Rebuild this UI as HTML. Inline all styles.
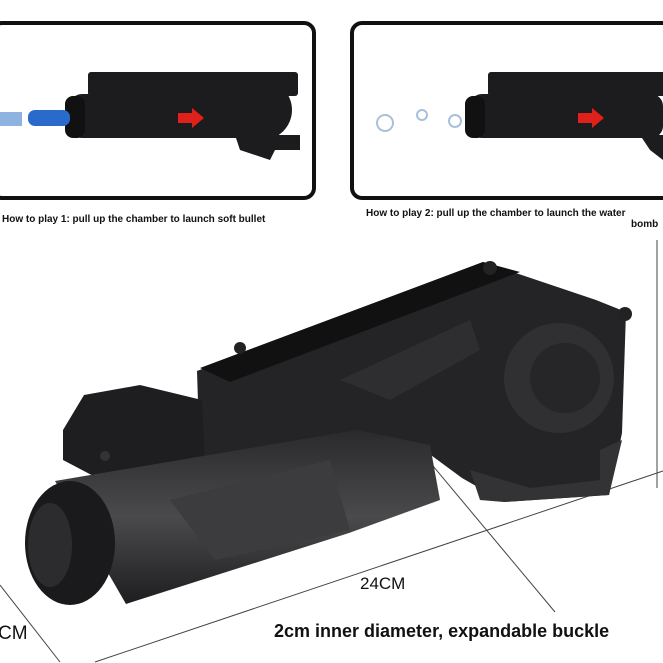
<!DOCTYPE html>
<html><head><style>
body{margin:0;width:663px;height:663px;overflow:hidden;background:#fff;font-family:"Liberation Sans",sans-serif;position:relative}
.box{position:absolute;border:4px solid #111;border-radius:12px;background:#fff}
.t{position:absolute;font-weight:bold;color:#111;white-space:nowrap}
</style></head><body>
<div class="box" style="left:-10px;top:21px;width:318px;height:171px"></div>
<div class="box" style="left:350px;top:21px;width:330px;height:171px"></div>
<svg width="663" height="663" style="position:absolute;left:0;top:0">
<defs>
<linearGradient id="bg" x1="0" y1="0" x2="0" y2="1"><stop offset="0" stop-color="#2a2a2c"/><stop offset="0.5" stop-color="#4a4a4d"/><stop offset="1" stop-color="#1e1e20"/></linearGradient>
</defs>
<!-- small gun 1 -->
<g fill="#1c1c1e">
<rect x="88" y="72" width="210" height="24" rx="3"/>
<rect x="70" y="94" width="185" height="44" rx="12"/>
<circle cx="262" cy="110" r="30"/>
<path d="M235 135 L300 135 L300 150 L275 150 L270 160 L240 150Z"/>
<rect x="65" y="96" width="20" height="42" rx="8" fill="#111"/>
</g>
<rect x="28" y="110" width="42" height="16" rx="7" fill="#2a6acb"/>
<rect x="0" y="112" width="22" height="14" fill="#8eb3e0"/>
<path d="M178 113 h14 v-5 l12 10 -12 10 v-5 h-14z" fill="#e0201a"/>
<!-- small gun 2 -->
<g fill="#1c1c1e">
<rect x="488" y="72" width="180" height="24" rx="3"/>
<rect x="470" y="94" width="193" height="44" rx="12"/>
<path d="M640 135 L663 135 L663 160 L650 150Z"/>
<rect x="465" y="96" width="20" height="42" rx="8" fill="#111"/>
</g>
<path d="M578 113 h14 v-5 l12 10 -12 10 v-5 h-14z" fill="#e0201a"/>
<circle cx="385" cy="123" r="8" fill="none" stroke="#a8c0d8" stroke-width="2"/>
<circle cx="422" cy="115" r="5" fill="none" stroke="#a8c0d8" stroke-width="2"/>
<circle cx="455" cy="121" r="6" fill="none" stroke="#a8c0d8" stroke-width="2"/>
<!-- dimension lines -->
<line x1="95" y1="662" x2="663" y2="471" stroke="#444" stroke-width="1"/>
<line x1="357" y1="375" x2="555" y2="612" stroke="#444" stroke-width="1"/>
<line x1="0" y1="585" x2="60" y2="662" stroke="#444" stroke-width="1"/>
<line x1="657" y1="240" x2="657" y2="488" stroke="#444" stroke-width="1"/>
<!-- main gun -->
<g>
<path d="M197 371 L483 262 L596 300 L626 312 L622 433 L609 495 L504 502 L462 478 L420 447 L300 470 L200 464Z" fill="#242426"/>
<path d="M470 470 L480 500 L504 502 L609 495 L622 440 L600 450 L600 480 L530 488 Z" fill="#333336"/>
<path d="M84 395 L140 385 L202 400 L205 464 L120 490 L63 460 L63 430Z" fill="#1e1e20"/>
<path d="M55 481 L357 430 L430 445 L440 500 L349 533 L126 604Z" fill="url(#bg)"/>
<path d="M170 500 L330 460 L350 530 L215 560Z" fill="#3c3c3f"/>
<ellipse cx="70" cy="543" rx="45" ry="62" fill="#1a1a1c"/>
<ellipse cx="50" cy="545" rx="22" ry="42" fill="#2c2c2e"/>
</g>
<path d="M200 368 L483 262 L520 272 L230 382Z" fill="#111"/>
<path d="M340 380 L470 320 L480 350 L390 400Z" fill="#2e2e31"/>
<circle cx="559" cy="378" r="55" fill="#303033"/>
<circle cx="565" cy="378" r="35" fill="#262629"/>
<circle cx="490" cy="268" r="7" fill="#222"/>
<circle cx="625" cy="314" r="7" fill="#222"/>
<circle cx="240" cy="348" r="6" fill="#222"/>
<circle cx="105" cy="456" r="5" fill="#333"/>
</svg>
<div class="t" style="left:2px;top:214px;font-size:10px">How to play 1: pull up the chamber to launch soft bullet</div>
<div class="t" style="left:366px;top:208px;font-size:10px">How to play 2: pull up the chamber to launch the water</div>
<div class="t" style="left:631px;top:219px;font-size:10px">bomb</div>
<div class="t" style="left:360px;top:574px;font-size:17px;font-weight:normal">24CM</div>
<div class="t" style="left:-2px;top:623px;font-size:19px;font-weight:normal">CM</div>
<div class="t" style="left:274px;top:621px;font-size:18px">2cm inner diameter, expandable buckle</div>
</body></html>
